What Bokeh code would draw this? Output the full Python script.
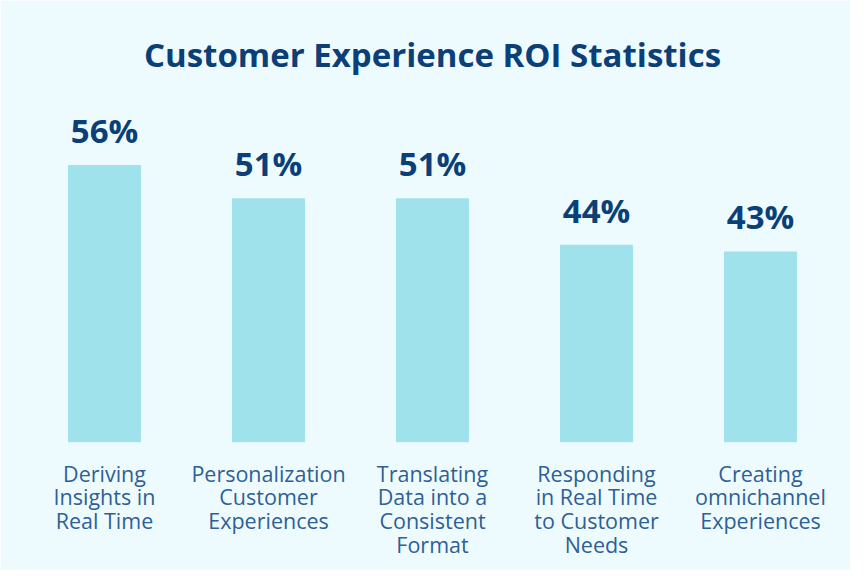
from bokeh.plotting import figure
from bokeh.models import ColumnDataSource, FactorRange, Range1d, Title
from bokeh.core.properties import value
from bokeh.embed import file_html
from bokeh.resources import INLINE

categories = [
    "Deriving\nInsights in\nReal Time",
    "Personalization\nCustomer\nExperiences",
    "Translating\nData into a\nConsistent\nFormat",
    "Responding\nin Real Time\nto Customer\nNeeds",
    "Creating\nomnichannel\nExperiences",
]
values = [56, 51, 51, 44, 43]
value_labels = ["56%", "51%", "51%", "44%", "43%"]

BG = "#EEFBFE"
BAR = "#A0E2EC"
TITLE = "#0B3F78"
LABEL = "#2E5F95"
FONT = "Open Sans"

src = ColumnDataSource(dict(cat=categories, val=values, lab=value_labels))

p = figure(
    width=850, height=570,
    x_range=FactorRange(factors=categories, range_padding=0),
    y_range=Range1d(14.25, 65.7),
    output_backend="svg", toolbar_location=None,
    background_fill_color=BG, border_fill_color=BG,
    outline_line_color=None,
    min_border_left=22, min_border_right=8, min_border_bottom=128, min_border_top=100,
)

p.title = Title(text="Customer Experience ROI Statistics", align="center",
                text_font=FONT, text_font_size="33px", text_font_style="bold",
                text_color=TITLE, offset=0, standoff=48)

p.vbar(x="cat", top="val", bottom=0, width=0.445, source=src,
       fill_color=BAR, line_color=None)

p.text(x="cat", y="val", text="lab", source=src, text_align="center",
       text_baseline="bottom", y_offset=-12, text_font=value(FONT),
       text_font_size="33px", text_font_style="bold", text_color=TITLE)

p.yaxis.visible = False
p.grid.visible = False
ax = p.xaxis[0]
ax.axis_line_color = None
ax.major_tick_line_color = None
ax.minor_tick_line_color = None
ax.major_label_text_font = FONT
ax.major_label_text_font_size = "21.5px"
ax.major_label_text_color = LABEL
ax.major_label_standoff = 10
ax.major_label_text_line_height = 0.82

open("out.html", "w").write(file_html(p, INLINE))
